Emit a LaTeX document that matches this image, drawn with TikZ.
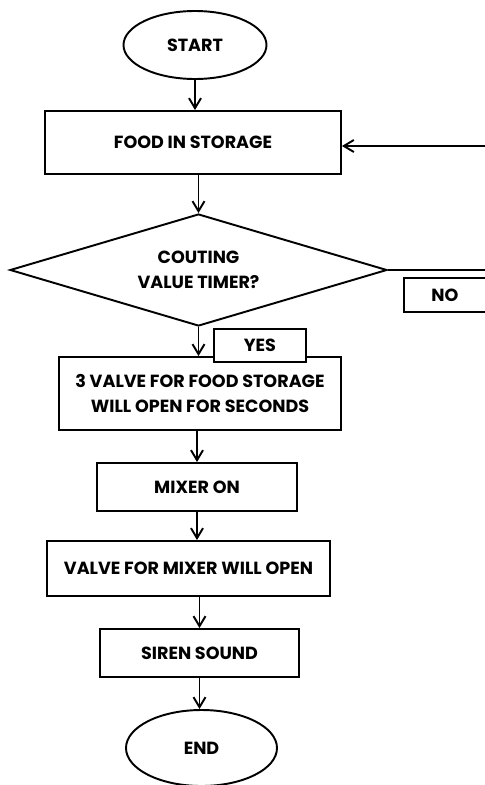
\documentclass[tikz,border=0pt]{standalone}
\usepackage{fontspec}
\setmainfont{Poppins}
\usepackage{tikz}
\usetikzlibrary{shapes.geometric,arrows.meta}

\begin{document}
\begin{tikzpicture}[line width=1.1pt, every node/.style={font=\bfseries\fontsize{10}{14}\selectfont, align=center}]
    \tikzstyle{terminal} = [ellipse, draw, inner sep=0pt]
    \tikzstyle{process} = [rectangle, draw, fill=white, inner sep=0pt]
    \tikzstyle{decision} = [diamond, draw, aspect=3.37, inner sep=0pt]
    \tikzstyle{flow} = [-{Straight Barb[length=2mm,width=2.4mm]}]

    \clip (0,0) rectangle (9.7,-15.7);

    % Main column, top to bottom
    \node [terminal, minimum width=2.86cm, minimum height=1.36cm] (start) at (3.9,-0.9) {START};
    \node [process, minimum width=5.92cm, minimum height=1.26cm] (food) at (3.86,-2.85) {FOOD IN STORAGE};
    \node [decision, minimum width=7.54cm, minimum height=2.24cm] (dec) at (3.97,-5.4) {COUTING\\VALUE TIMER?};
    \node [process, minimum width=5.64cm, minimum height=1.46cm] (valve) at (4.0,-7.87) {3 VALVE FOR FOOD STORAGE\\WILL OPEN FOR SECONDS};
    \node [process, minimum width=4.0cm, minimum height=0.96cm] (mixer) at (3.94,-9.74) {MIXER ON};
    \node [process, minimum width=5.66cm, minimum height=1.1cm] (valvemix) at (3.77,-11.37) {VALVE FOR MIXER WILL OPEN};
    \node [process, minimum width=3.98cm, minimum height=0.96cm] (siren) at (3.99,-13.06) {SIREN SOUND};
    \node [terminal, minimum width=3.02cm, minimum height=1.52cm] (end) at (4.03,-14.96) {END};

    % Branch labels
    \node [process, minimum width=1.84cm, minimum height=0.66cm] (yes) at (5.2,-6.91) {YES};
    \node [process, minimum width=1.64cm, minimum height=0.68cm] (no) at (8.9,-5.9) {NO};

    % Connectors
    \draw [flow] (start) -- (start |- food.north);
    \draw [flow] (food.south -| dec.north) -- (dec.north);
    \draw [flow] (dec.south) -- (dec.south |- valve.north);
    \draw [flow] (valve.south -| mixer.north) -- (mixer.north);
    \draw [flow] (mixer) -- (mixer |- valvemix.north);
    \draw [flow] (valvemix.south -| siren.north) -- (siren.north);
    \draw [flow] (siren) -- (siren |- end.north);

    % NO loop back to storage
    \coordinate (noend) at (9.9,-5.4);
    \coordinate (backtop) at (9.9,-2.92);
    \draw [flow] (dec.east) -- (noend) -- (backtop) -- (backtop -| food.east);
\end{tikzpicture}
\end{document}
